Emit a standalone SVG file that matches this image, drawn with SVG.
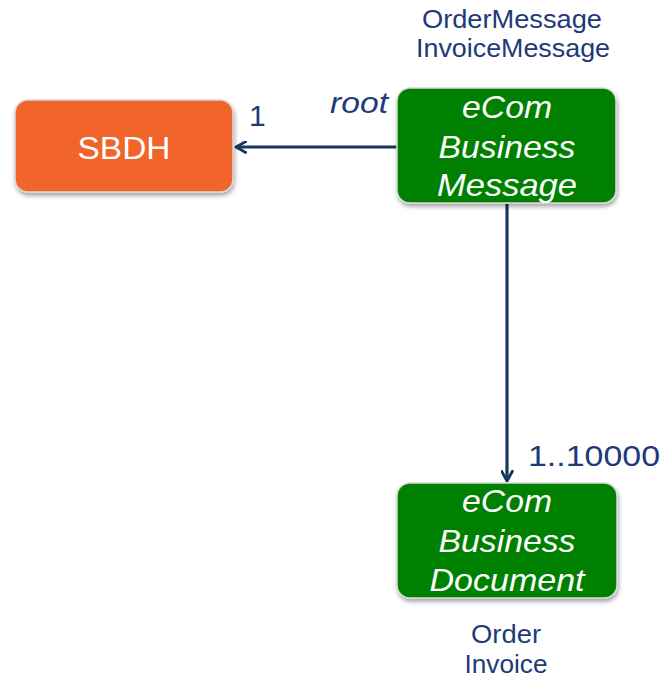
<svg xmlns="http://www.w3.org/2000/svg" width="662" height="678" viewBox="0 0 662 678">
  <defs>
    <filter id="shadow" x="-10%" y="-10%" width="125%" height="130%">
      <feGaussianBlur in="SourceAlpha" stdDeviation="2"/>
      <feOffset dx="1" dy="3" result="b"/>
      <feComponentTransfer><feFuncA type="linear" slope="0.35"/></feComponentTransfer>
      <feMerge><feMergeNode/><feMergeNode in="SourceGraphic"/></feMerge>
    </filter>
    <marker id="arrow" viewBox="0 0 12 12" refX="10" refY="6" markerWidth="13" markerHeight="13" markerUnits="userSpaceOnUse" orient="auto">
      <path d="M1,1 L10,6 L1,11" fill="none" stroke="#17375E" stroke-width="2.6" stroke-linecap="round" stroke-linejoin="round"/>
    </marker>
  </defs>
  <style>
    .box { stroke: #D9D9D9; stroke-width: 1.5; filter: url(#shadow); }
    .orange { fill: #F26529; }
    .green { fill: #008000; }
    .inner { font-family: "Liberation Sans", Arial, sans-serif; font-size: 32px; fill: #FFFFFF; text-anchor: middle; }
    .it { font-style: italic; }
    .label { font-family: "Liberation Sans", Arial, sans-serif; fill: #1F3A78; }
    .small { font-size: 25px; text-anchor: middle; }
    .mult { font-size: 30px; }
    .conn { stroke: #17375E; stroke-width: 3.2; fill: none; marker-end: url(#arrow); }
  </style>

  <g id="connectors">
    <line class="conn" x1="397" y1="147" x2="236" y2="147"/>
    <line class="conn" x1="507" y1="204" x2="507" y2="481"/>
  </g>

  <g id="sbdh">
    <rect class="box orange" x="15" y="100" width="218" height="92" rx="13"/>
    <text class="inner" x="124" y="159" textLength="93" lengthAdjust="spacingAndGlyphs">SBDH</text>
  </g>

  <g id="business-message">
    <rect class="box green" x="397" y="88" width="219" height="115" rx="13"/>
    <text class="inner it" x="507" y="118" textLength="90" lengthAdjust="spacingAndGlyphs">eCom</text>
    <text class="inner it" x="507" y="158" textLength="137" lengthAdjust="spacingAndGlyphs">Business</text>
    <text class="inner it" x="507" y="196" textLength="140" lengthAdjust="spacingAndGlyphs">Message</text>
  </g>

  <g id="business-document">
    <rect class="box green" x="397" y="483" width="220" height="115" rx="13"/>
    <text class="inner it" x="507" y="512" textLength="90" lengthAdjust="spacingAndGlyphs">eCom</text>
    <text class="inner it" x="507" y="552" textLength="137" lengthAdjust="spacingAndGlyphs">Business</text>
    <text class="inner it" x="507" y="591" textLength="155" lengthAdjust="spacingAndGlyphs">Document</text>
  </g>

  <g id="labels">
    <text class="label small" x="512" y="28" textLength="180" lengthAdjust="spacingAndGlyphs">OrderMessage</text>
    <text class="label small" x="513" y="57" textLength="194" lengthAdjust="spacingAndGlyphs">InvoiceMessage</text>
    <text class="label mult it" x="330" y="113" textLength="58" lengthAdjust="spacingAndGlyphs">root</text>
    <text class="label mult" x="249" y="126">1</text>
    <text class="label mult" x="528" y="466" textLength="132" lengthAdjust="spacingAndGlyphs">1..10000</text>
    <text class="label small" x="506" y="643" textLength="70" lengthAdjust="spacingAndGlyphs">Order</text>
    <text class="label small" x="506" y="673" textLength="83" lengthAdjust="spacingAndGlyphs">Invoice</text>
  </g>
</svg>
